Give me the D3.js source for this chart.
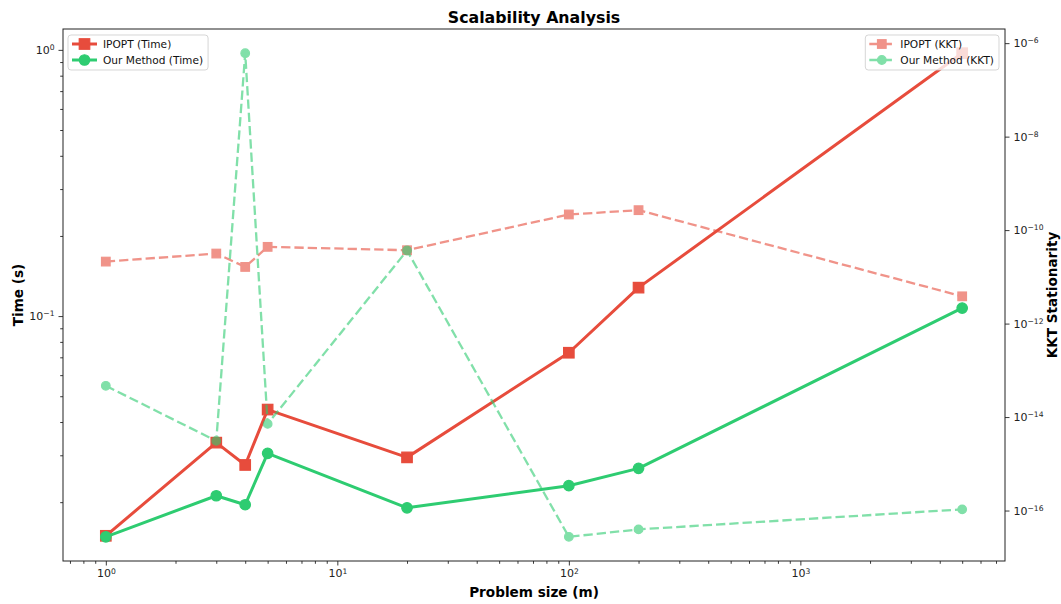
<!DOCTYPE html>
<html>
<head>
<meta charset="utf-8">
<script src="https://cdn.jsdelivr.net/npm/d3@7"></script>
<style>
  body { margin: 0; background: #fff; }
  svg text { font-family: "DejaVu Sans", sans-serif; }
</style>
</head>
<body>
<div id="chart"></div>
<script>
// problem sizes and measured values
var sizes = [1, 3, 4, 5, 20, 100, 200, 5000];
var ipoptTime = [0.01495, 0.03347, 0.02759, 0.04455, 0.02946, 0.07283, 0.1279, 0.9718];
var oursTime = [0.01482, 0.02114, 0.01956, 0.03051, 0.01905, 0.02306, 0.02679, 0.1072];
var ipoptKkt = [2.12e-11, 3.15e-11, 1.63e-11, 4.38e-11, 3.71e-11, 2.16e-10, 2.67e-10, 3.83e-12];
var oursKkt = [4.67e-14, 3.09e-15, 6.1e-7, 7.14e-15, 3.66e-11, 2.74e-17, 3.95e-17, 1.06e-16];

var xTicks = [1, 10, 100, 1000];
var timeTicks = [0.1, 1];
var kktTicks = [1e-16, 1e-14, 1e-12, 1e-10, 1e-8, 1e-6];

var red = "#e74c3c", green = "#2ecc71";

var W = 1061, H = 604,
    plotL = 63, plotR = 1005, plotT = 29, plotB = 561;

// matplotlib style 5% margins on log axes
function logPad(vals) {
  var a = Math.log10(d3.min(vals)), b = Math.log10(d3.max(vals)), m = (b - a) * 0.05;
  return [Math.pow(10, a - m), Math.pow(10, b + m)];
}

var x = d3.scaleLog().domain(logPad(sizes)).range([plotL, plotR]);
var y1 = d3.scaleLog().domain(logPad(ipoptTime.concat(oursTime))).range([plotB, plotT]);
var y2 = d3.scaleLog().domain(logPad(ipoptKkt.concat(oursKkt))).range([plotB, plotT]);

function minors(scale) {
  var d = scale.domain(), out = [];
  for (var e = Math.floor(Math.log10(d[0])); e <= Math.ceil(Math.log10(d[1])); e++) {
    for (var k = 2; k <= 9; k++) {
      var v = k * Math.pow(10, e);
      if (v >= d[0] && v <= d[1]) out.push(v);
    }
  }
  return out;
}

var svg = d3.select("#chart").append("svg")
  .attr("width", W).attr("height", H)
  .style("background", "#fff");

function supLabels(g) {
  g.selectAll(".tick text").each(function(d) {
    var t = d3.select(this), e = Math.round(Math.log10(d));
    t.text(null);
    t.append("tspan").text("10");
    t.append("tspan").attr("dy", "-0.5em").attr("font-size", "7.6px")
      .text(String(e).replace("-", "\u2212"));
  });
}

function styleAxis(g) {
  g.select(".domain").remove();
  g.selectAll(".tick line").attr("stroke", "#222").attr("stroke-width", 0.9);
  g.selectAll(".tick text").attr("fill", "#222").attr("font-size", "11px")
    .attr("font-family", "DejaVu Sans, sans-serif");
}

// x axis
svg.append("g").attr("transform", "translate(0," + plotB + ")")
  .call(d3.axisBottom(x).tickValues(minors(x)).tickSize(2.8).tickFormat(""))
  .call(styleAxis);
svg.append("g").attr("transform", "translate(0," + plotB + ")")
  .call(d3.axisBottom(x).tickValues(xTicks).tickSize(4.5).tickPadding(4).tickFormat(""))
  .call(styleAxis).call(supLabels);

// left y axis
svg.append("g").attr("transform", "translate(" + plotL + ",0)")
  .call(d3.axisLeft(y1).tickValues(minors(y1)).tickSize(2.8).tickFormat(""))
  .call(styleAxis);
svg.append("g").attr("transform", "translate(" + plotL + ",0)")
  .call(d3.axisLeft(y1).tickValues(timeTicks).tickSize(4.5).tickPadding(4).tickFormat(""))
  .call(styleAxis).call(supLabels);

// right y axis
svg.append("g").attr("transform", "translate(" + plotR + ",0)")
  .call(d3.axisRight(y2).tickValues(kktTicks).tickSize(4.5).tickPadding(4).tickFormat(""))
  .call(styleAxis).call(supLabels);

var line1 = function(vals) {
  return d3.line().x(function(d, i) { return x(sizes[i]); }).y(function(d) { return y1(d); })(vals);
};
var line2 = function(vals) {
  return d3.line().x(function(d, i) { return x(sizes[i]); }).y(function(d) { return y2(d); })(vals);
};

function drawSeries(vals, yScale, pathStr, color, shape, opts) {
  var g = svg.append("g").attr("opacity", opts.alpha || 1);
  g.append("path").attr("d", pathStr).attr("fill", "none")
    .attr("stroke", color).attr("stroke-width", opts.lw)
    .attr("stroke-dasharray", opts.dash || null)
    .attr("stroke-linejoin", "round").attr("stroke-linecap", opts.dash ? "butt" : "square");
  var s = opts.ms;
  vals.forEach(function(v, i) {
    var cx = x(sizes[i]), cy = yScale(v);
    if (shape === "square") {
      g.append("rect").attr("x", cx - s / 2).attr("y", cy - s / 2)
        .attr("width", s).attr("height", s)
        .attr("fill", color).attr("stroke", color).attr("stroke-width", 1.2);
    } else {
      g.append("circle").attr("cx", cx).attr("cy", cy).attr("r", s / 2)
        .attr("fill", color).attr("stroke", color).attr("stroke-width", 1.2);
    }
  });
}

function legend(items, anchorX, alignRight) {
  var g = svg.append("g");
  var box = g.append("rect").attr("rx", 3).attr("ry", 3)
    .attr("fill", "#fff").attr("fill-opacity", 0.8)
    .attr("stroke", "#ccc").attr("stroke-opacity", 0.8).attr("stroke-width", 1);
  var maxW = 0;
  items.forEach(function(it, i) {
    var cy = 44 + i * 16;
    var hg = g.append("g").attr("opacity", it.alpha || 1);
    hg.append("line").attr("class", "h").attr("x1", 0).attr("x2", 25)
      .attr("y1", cy).attr("y2", cy).attr("stroke", it.color).attr("stroke-width", it.lw)
      .attr("stroke-dasharray", it.dash || null);
    if (it.shape === "square") {
      hg.append("rect").attr("x", 12.5 - it.ms / 2).attr("y", cy - it.ms / 2)
        .attr("width", it.ms).attr("height", it.ms).attr("fill", it.color)
        .attr("stroke", it.color).attr("stroke-width", 1.2);
    } else {
      hg.append("circle").attr("cx", 12.5).attr("cy", cy).attr("r", it.ms / 2)
        .attr("fill", it.color).attr("stroke", it.color).attr("stroke-width", 1.2);
    }
    var t = g.append("text").attr("x", 31).attr("y", cy + 3.8)
      .attr("font-size", "10.6px").attr("fill", "#111").text(it.label);
    maxW = Math.max(maxW, t.node().getComputedTextLength());
  });
  var bw = 31 + maxW + 9, bx = alignRight ? anchorX - bw : anchorX;
  box.attr("x", bx).attr("y", 35).attr("width", bw).attr("height", 35);
  g.selectAll("g, text").attr("transform", "translate(" + (bx + 4) + ",0)");
}

// time (left axis)
drawSeries(ipoptTime, y1, line1(ipoptTime), red, "square", { lw: 3, ms: 10.5 });
drawSeries(oursTime, y1, line1(oursTime), green, "circle", { lw: 3, ms: 10.5 });
legend([
  { label: "IPOPT (Time)", color: red, shape: "square", lw: 3, ms: 10.5 },
  { label: "Our Method (Time)", color: green, shape: "circle", lw: 3, ms: 10.5 }
], plotL + 5, false);

// KKT (right axis)
drawSeries(ipoptKkt, y2, line2(ipoptKkt), red, "square", { lw: 2.3, ms: 8.6, alpha: 0.6, dash: "9.3,4" });
drawSeries(oursKkt, y2, line2(oursKkt), green, "circle", { lw: 2.3, ms: 8.6, alpha: 0.6, dash: "9.3,4" });
legend([
  { label: "IPOPT (KKT)", color: red, shape: "square", lw: 2.3, ms: 8.6, alpha: 0.6, dash: "9.3,4" },
  { label: "Our Method (KKT)", color: green, shape: "circle", lw: 2.3, ms: 8.6, alpha: 0.6, dash: "9.3,4" }
], plotR - 6, true);

// frame
svg.append("rect").attr("x", plotL).attr("y", plotT)
  .attr("width", plotR - plotL).attr("height", plotB - plotT)
  .attr("fill", "none").attr("stroke", "#222").attr("stroke-width", 1);

// titles
svg.append("text").attr("x", (plotL + plotR) / 2).attr("y", 23)
  .attr("text-anchor", "middle").attr("font-size", "15.8px").attr("font-weight", "bold")
  .text("Scalability Analysis");
svg.append("text").attr("x", (plotL + plotR) / 2).attr("y", 597)
  .attr("text-anchor", "middle").attr("font-size", "13.6px").attr("font-weight", "bold")
  .text("Problem size (m)");
svg.append("text").attr("transform", "translate(23," + (plotT + plotB) / 2 + ") rotate(-90)")
  .attr("text-anchor", "middle").attr("font-size", "13.6px").attr("font-weight", "bold")
  .text("Time (s)");
svg.append("text").attr("transform", "translate(1057," + (plotT + plotB) / 2 + ") rotate(-90)")
  .attr("text-anchor", "middle").attr("font-size", "13.6px").attr("font-weight", "bold")
  .text("KKT Stationarity");
</script>
</body>
</html>
